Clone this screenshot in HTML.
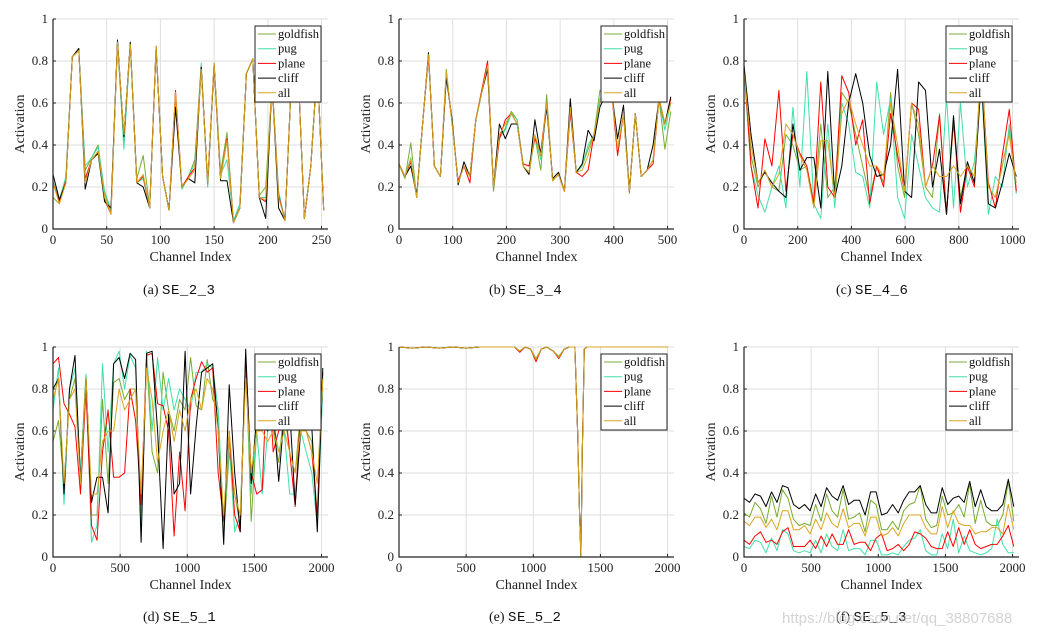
<!DOCTYPE html>
<html><head><meta charset="utf-8"><style>
body{margin:0;background:#fff;width:1044px;height:638px;overflow:hidden;position:relative;font-family:"Liberation Serif",serif}
svg{position:absolute;left:0;top:0}
.cap{position:absolute;font-size:14px;color:#111;white-space:nowrap;font-family:"Liberation Serif",serif}
.cap .m{font-family:"Liberation Mono","DejaVu Sans Mono",monospace;font-size:14px;letter-spacing:0.5px}
.wm{position:absolute;left:782px;top:610px;font-family:"Liberation Sans",sans-serif;font-size:15px;color:rgba(200,200,200,0.8)}
</style></head><body>
<svg id="fig" width="1044" height="638"></svg>
<div class="cap" style="left:143px;top:283px">(a) <span class="m">SE_2_3</span></div>
<div class="cap" style="left:489px;top:283px">(b) <span class="m">SE_3_4</span></div>
<div class="cap" style="left:836px;top:283px">(c) <span class="m">SE_4_6</span></div>
<div class="cap" style="left:143px;top:610px">(d) <span class="m">SE_5_1</span></div>
<div class="cap" style="left:489px;top:610px">(e) <span class="m">SE_5_2</span></div>
<div class="cap" style="left:836px;top:610px">(f) <span class="m">SE_5_3</span></div>
<div class="wm">https://blog.csdn.net/qq_38807688</div>
<script>
const seriesNames=["goldfish","pug","plane","cliff","all"];
const seriesColors=["#77ac30","#40e0a8","#ff0000","#000000","#daa520"];
// panel a
const aStride=6, aMax=256, aTicks=[0,50,100,150,200,250];
const aAll=[0.22,0.12,0.22,0.82,0.85,0.22,0.33,0.37,0.15,0.07,0.89,0.45,0.88,0.22,0.26,0.1,0.87,0.25,0.09,0.65,0.2,0.24,0.28,0.76,0.22,0.79,0.24,0.42,0.03,0.1,0.74,0.81,0.15,0.14,0.7,0.15,0.04,0.72,0.78,0.05,0.3,0.78,0.09];
const aGoldfish=[0.15,0.12,0.24,0.82,0.85,0.28,0.34,0.4,0.17,0.08,0.89,0.42,0.88,0.24,0.35,0.1,0.87,0.25,0.09,0.64,0.19,0.25,0.33,0.77,0.2,0.79,0.27,0.46,0.03,0.12,0.74,0.81,0.16,0.2,0.7,0.17,0.04,0.72,0.78,0.05,0.3,0.78,0.09];
const aPug=[0.23,0.14,0.25,0.82,0.85,0.3,0.34,0.39,0.18,0.09,0.89,0.38,0.88,0.22,0.24,0.1,0.87,0.25,0.09,0.64,0.19,0.25,0.31,0.79,0.2,0.79,0.26,0.33,0.04,0.12,0.74,0.81,0.15,0.15,0.7,0.18,0.04,0.72,0.78,0.05,0.3,0.78,0.09];
const aPlane=[0.22,0.13,0.23,0.82,0.85,0.24,0.33,0.37,0.14,0.07,0.89,0.44,0.88,0.22,0.25,0.1,0.87,0.25,0.09,0.66,0.2,0.25,0.29,0.77,0.22,0.79,0.24,0.43,0.03,0.1,0.74,0.81,0.15,0.13,0.7,0.16,0.04,0.72,0.78,0.05,0.3,0.78,0.09];
const aCliff=[0.26,0.14,0.22,0.82,0.86,0.19,0.33,0.36,0.13,0.1,0.9,0.44,0.89,0.22,0.2,0.1,0.86,0.25,0.09,0.58,0.2,0.24,0.22,0.77,0.22,0.78,0.23,0.23,0.03,0.1,0.74,0.81,0.15,0.05,0.7,0.1,0.04,0.72,0.78,0.05,0.3,0.78,0.09];
// panel b
const bStride=11, bMax=512, bTicks=[0,100,200,300,400,500];
const bAll=[0.31,0.25,0.33,0.15,0.5,0.83,0.3,0.25,0.75,0.5,0.22,0.3,0.25,0.52,0.65,0.78,0.2,0.45,0.5,0.55,0.5,0.3,0.27,0.45,0.35,0.6,0.23,0.26,0.18,0.58,0.27,0.28,0.35,0.45,0.6,0.64,0.65,0.38,0.55,0.18,0.55,0.25,0.28,0.33,0.62,0.5,0.6];
const bGoldfish=[0.31,0.24,0.41,0.15,0.5,0.83,0.3,0.25,0.76,0.5,0.22,0.3,0.25,0.52,0.65,0.77,0.18,0.43,0.48,0.56,0.52,0.3,0.26,0.44,0.28,0.64,0.23,0.26,0.18,0.56,0.27,0.3,0.38,0.45,0.66,0.64,0.65,0.36,0.55,0.17,0.55,0.25,0.28,0.33,0.62,0.38,0.56];
const bPug=[0.31,0.25,0.34,0.15,0.5,0.83,0.3,0.25,0.74,0.5,0.22,0.3,0.25,0.52,0.65,0.78,0.2,0.44,0.47,0.55,0.52,0.3,0.27,0.44,0.33,0.6,0.23,0.26,0.18,0.58,0.27,0.3,0.4,0.45,0.62,0.64,0.65,0.38,0.55,0.18,0.55,0.25,0.28,0.33,0.62,0.47,0.6];
const bPlane=[0.31,0.25,0.32,0.15,0.5,0.82,0.3,0.25,0.74,0.5,0.23,0.3,0.22,0.52,0.66,0.8,0.2,0.43,0.52,0.55,0.5,0.31,0.3,0.43,0.37,0.6,0.23,0.26,0.18,0.56,0.27,0.25,0.28,0.45,0.6,0.64,0.65,0.35,0.55,0.18,0.55,0.25,0.28,0.31,0.62,0.5,0.62];
const bCliff=[0.31,0.25,0.3,0.16,0.5,0.84,0.3,0.25,0.72,0.52,0.21,0.32,0.25,0.52,0.65,0.76,0.2,0.5,0.43,0.5,0.5,0.3,0.26,0.52,0.35,0.58,0.24,0.27,0.18,0.62,0.27,0.31,0.47,0.42,0.58,0.64,0.65,0.43,0.59,0.18,0.55,0.25,0.28,0.4,0.62,0.5,0.63];
// panel c
const cStride=26, cMax=1024, cTicks=[0,200,400,600,800,1000];
const cGoldfish=[0.75,0.35,0.2,0.28,0.2,0.18,0.45,0.4,0.28,0.3,0.12,0.5,0.15,0.2,0.65,0.6,0.45,0.3,0.15,0.3,0.22,0.65,0.3,0.15,0.6,0.45,0.2,0.15,0.55,0.08,0.5,0.15,0.3,0.25,0.8,0.2,0.15,0.3,0.47,0.17];
const cPug=[0.75,0.3,0.16,0.08,0.2,0.3,0.1,0.58,0.2,0.75,0.12,0.05,0.5,0.1,0.6,0.5,0.27,0.25,0.1,0.7,0.45,0.62,0.15,0.05,0.45,0.3,0.15,0.1,0.08,0.63,0.1,0.6,0.2,0.32,0.7,0.07,0.25,0.2,0.5,0.17];
const cPlane=[0.78,0.3,0.1,0.43,0.3,0.66,0.18,0.45,0.36,0.3,0.12,0.7,0.2,0.15,0.73,0.65,0.4,0.52,0.12,0.3,0.2,0.55,0.35,0.18,0.6,0.57,0.2,0.3,0.54,0.07,0.52,0.08,0.3,0.2,0.78,0.22,0.1,0.35,0.57,0.18];
const cCliff=[0.78,0.45,0.22,0.27,0.22,0.18,0.15,0.5,0.28,0.34,0.34,0.1,0.75,0.15,0.3,0.6,0.74,0.6,0.35,0.25,0.26,0.4,0.76,0.18,0.15,0.7,0.66,0.2,0.38,0.07,0.54,0.12,0.32,0.22,0.72,0.12,0.1,0.22,0.36,0.25];
const cAll=[0.75,0.4,0.22,0.28,0.2,0.26,0.5,0.45,0.35,0.28,0.1,0.42,0.42,0.15,0.55,0.62,0.5,0.4,0.3,0.3,0.25,0.6,0.4,0.18,0.6,0.5,0.2,0.3,0.25,0.25,0.3,0.25,0.3,0.25,0.78,0.2,0.15,0.3,0.45,0.22];
// panel d
const dStride=41, dMax=2048, dTicks=[0,500,1000,1500,2000];
const dGoldfish=[0.55,0.65,0.35,0.75,0.85,0.4,0.87,0.2,0.2,0.75,0.35,0.83,0.85,0.75,0.8,0.8,0.2,0.95,0.5,0.4,0.88,0.7,0.6,0.75,0.7,0.95,0.72,0.7,0.94,0.75,0.7,0.1,0.5,0.3,0.15,0.95,0.17,0.6,0.8,0.65,0.6,0.45,0.7,0.5,0.4,0.7,0.6,0.55,0.2,0.85];
const dPug=[0.7,0.9,0.25,0.8,0.9,0.4,0.87,0.07,0.15,0.92,0.5,0.92,0.98,0.8,0.96,0.9,0.1,0.98,0.6,0.95,0.7,0.85,0.7,0.8,0.75,0.7,0.88,0.88,0.92,0.9,0.7,0.15,0.55,0.12,0.2,0.9,0.3,0.6,0.3,0.6,0.65,0.5,0.6,0.3,0.3,0.6,0.5,0.4,0.15,0.8];
const dPlane=[0.92,0.95,0.73,0.68,0.62,0.3,0.8,0.15,0.08,0.5,0.7,0.38,0.38,0.4,0.8,0.65,0.25,0.96,0.97,0.73,0.72,0.6,0.1,0.5,0.22,0.75,0.85,0.93,0.88,0.9,0.4,0.17,0.6,0.2,0.12,0.95,0.4,0.3,0.32,0.95,0.5,0.6,0.75,0.5,0.24,0.7,0.6,0.5,0.2,0.88];
const dCliff=[0.8,0.85,0.3,0.8,0.96,0.35,0.85,0.26,0.38,0.38,0.21,0.92,0.95,0.85,0.97,0.94,0.07,0.97,0.98,0.6,0.04,0.68,0.3,0.35,0.98,0.3,0.62,0.88,0.9,0.92,0.6,0.06,0.82,0.4,0.12,0.99,0.35,0.67,0.67,0.6,0.7,0.36,0.68,0.7,0.25,0.6,0.75,0.62,0.12,0.9];
const dAll=[0.75,0.85,0.35,0.75,0.8,0.35,0.85,0.3,0.3,0.55,0.6,0.6,0.8,0.7,0.75,0.8,0.3,0.9,0.75,0.45,0.6,0.7,0.55,0.7,0.6,0.75,0.8,0.7,0.85,0.8,0.6,0.2,0.6,0.3,0.2,0.85,0.4,0.6,0.6,0.55,0.6,0.5,0.6,0.5,0.4,0.6,0.6,0.5,0.35,0.85];
// panel e
const eMax=2048, eTicks=[0,500,1000,1500,2000];
const eChannels=[0,100,200,300,400,500,600,700,800,860,900,940,980,1020,1060,1100,1150,1190,1230,1270,1310,1330,1345,1355,1365,1380,1400,1500,1600,1700,1800,1900,2000];
const eAll=[1,0.995,1,0.995,1,0.995,1,1,1,1,0.98,1,0.99,0.94,0.99,1,0.98,0.95,0.99,1,1,0.6,0.2,0,0.5,0.99,1,1,1,1,1,1,1];
const eGoldfish=[1,0.995,1,0.995,1,0.995,1,1,1,1,0.98,1,0.99,0.945,0.99,1,0.98,0.955,0.99,1,1,0.6,0.2,0,0.5,0.99,1,1,1,1,1,1,1];
const ePug=[1,0.995,1,0.995,1,0.995,1,1,1,1,0.98,1,0.99,0.94,0.99,1,0.98,0.95,0.99,1,1,0.6,0.2,0,0.5,0.99,1,1,1,1,1,1,1];
const ePlane=[1,0.995,1,0.995,1,0.995,1,1,1,1,0.975,1,0.99,0.93,0.99,1,0.98,0.945,0.99,1,1,0.6,0.2,0,0.5,0.99,1,1,1,1,1,1,1];
const eCliff=[1,0.995,1,0.995,1,0.995,1,1,1,1,0.98,1,0.99,0.94,0.99,1,0.98,0.95,0.99,1,1,0.6,0.2,0,0.5,0.99,1,1,1,1,1,1,1];
// panel f
const fStride=41, fMax=2048, fTicks=[0,500,1000,1500,2000];
const fCliff=[0.28,0.26,0.30,0.29,0.24,0.31,0.26,0.34,0.33,0.25,0.23,0.25,0.22,0.30,0.24,0.33,0.29,0.27,0.34,0.25,0.27,0.27,0.20,0.31,0.31,0.20,0.21,0.25,0.21,0.27,0.31,0.31,0.34,0.25,0.21,0.21,0.33,0.25,0.28,0.29,0.26,0.36,0.24,0.32,0.24,0.22,0.22,0.25,0.37,0.24];
const fGoldfish=[0.21,0.19,0.26,0.23,0.16,0.29,0.19,0.32,0.28,0.18,0.15,0.16,0.15,0.25,0.17,0.30,0.22,0.19,0.32,0.18,0.19,0.21,0.12,0.27,0.25,0.13,0.13,0.17,0.13,0.22,0.25,0.26,0.34,0.18,0.14,0.15,0.29,0.20,0.21,0.25,0.19,0.35,0.16,0.27,0.17,0.15,0.15,0.20,0.36,0.17];
const fAll=[0.17,0.15,0.19,0.19,0.14,0.18,0.13,0.22,0.22,0.13,0.13,0.15,0.11,0.18,0.13,0.21,0.16,0.14,0.23,0.14,0.16,0.16,0.10,0.19,0.19,0.10,0.11,0.14,0.10,0.16,0.20,0.20,0.20,0.14,0.11,0.11,0.24,0.14,0.22,0.16,0.15,0.15,0.11,0.12,0.12,0.14,0.14,0.11,0.25,0.13];
const fPlane=[0.08,0.06,0.10,0.12,0.07,0.08,0.06,0.12,0.14,0.05,0.05,0.05,0.08,0.04,0.10,0.05,0.11,0.06,0.06,0.13,0.06,0.07,0.07,0.03,0.09,0.11,0.03,0.04,0.06,0.03,0.06,0.12,0.11,0.09,0.05,0.04,0.04,0.12,0.05,0.14,0.06,0.13,0.06,0.04,0.05,0.06,0.06,0.10,0.15,0.05];
const fPug=[0.05,0.04,0.08,0.07,0.02,0.09,0.03,0.13,0.11,0.03,0.02,0.03,0.02,0.08,0.02,0.11,0.05,0.03,0.13,0.03,0.04,0.04,0.01,0.08,0.08,0.01,0.01,0.02,0.01,0.05,0.08,0.09,0.13,0.03,0.01,0.01,0.11,0.04,0.18,0.02,0.10,0.03,0.02,0.01,0.02,0.04,0.18,0.06,0.02,0.02];
const yTicks=[0,0.2,0.4,0.6,0.8,1];
const yTickLabels=["0","0.2","0.4","0.6","0.8","1"];

const NS="http://www.w3.org/2000/svg";
const svg=document.getElementById("fig");
function mk(tag,attrs,parent){const e=document.createElementNS(NS,tag);for(const k in attrs)e.setAttribute(k,attrs[k]);(parent||svg).appendChild(e);return e;}
const W=275,H=210;
function idxChannels(n,stride){const r=[];for(let i=0;i<n;i++)r.push(i*stride);return r;}
function panel(id,ox,oy,xmax,xticks,series,chans){
  const g=mk("g",{});
  
  
  const sx=v=>ox+v/xmax*W, sy=v=>oy+H-v*H;
  xticks.forEach(t=>{const l=mk("line",{x1:sx(t),x2:sx(t),y1:oy,y2:oy+H,stroke:"#dedede","stroke-width":1},g);
    
    const tx=mk("text",{x:sx(t),y:oy+H+15,"text-anchor":"middle","font-size":13,fill:"#222"},g);tx.textContent=t;
    
    mk("line",{x1:sx(t),x2:sx(t),y1:oy+H,y2:oy+H-3,stroke:"#222"},g);});
  yTicks.forEach((t,i)=>{const l=mk("line",{x1:ox,x2:ox+W,y1:sy(t),y2:sy(t),stroke:"#dedede","stroke-width":1},g);
    
    const tx=mk("text",{x:ox-5,y:sy(t)+4,"text-anchor":"end","font-size":13,fill:"#222"},g);tx.textContent=yTickLabels[i];
    
    mk("line",{x1:ox,x2:ox+3,y1:sy(t),y2:sy(t),stroke:"#222"},g);});
  series.forEach((vals,si)=>{
    const ch=chans[si];let d="";
    const n=Math.min(vals.length,ch.length);
    for(let i=0;i<n;i++){d+=(i?"L":"M")+sx(ch[i]).toFixed(1)+","+sy(vals[i]).toFixed(1);}
    const p=mk("path",{d:d,fill:"none",stroke:seriesColors[si],"stroke-width":1,"stroke-linejoin":"round"},g);
    
    
  });
  const ax=mk("path",{d:`M${ox},${oy}V${oy+H}H${ox+W}`,fill:"none",stroke:"#222","stroke-width":1.2},g);
  
  const xl=mk("text",{x:ox+W/2,y:oy+H+32,"text-anchor":"middle","font-size":14,fill:"#222"},g);xl.textContent="Channel Index";
  
  const yl=mk("text",{x:0,y:0,"text-anchor":"middle","font-size":14,fill:"#222",transform:`translate(${ox-29},${oy+H/2}) rotate(-90)`},g);yl.textContent="Activation";
  
  const lx=ox+W-73,ly=oy+7;
  const lg=mk("g",{},g);
  
  mk("rect",{x:lx,y:ly,width:66,height:76,fill:"#fff",stroke:"#222","stroke-width":1},lg);
  seriesNames.forEach((n,i)=>{const yy=ly+8+i*14.7;
    mk("line",{x1:lx+3,x2:lx+21,y1:yy,y2:yy,stroke:seriesColors[i],"stroke-width":1},lg);
    const t=mk("text",{x:lx+23,y:yy+4,"font-size":12.5,fill:"#111"},lg);t.textContent=n;
    });
}
const five=(n,s)=>[0,1,2,3,4].map(()=>idxChannels(n,s));
panel("a",53,19,aMax,aTicks,[aGoldfish,aPug,aPlane,aCliff,aAll],five(aAll.length,aStride));
panel("b",399,19,bMax,bTicks,[bGoldfish,bPug,bPlane,bCliff,bAll],five(bAll.length,bStride));
panel("c",744,19,cMax,cTicks,[cGoldfish,cPug,cPlane,cCliff,cAll],five(cAll.length,cStride));
panel("d",53,347,dMax,dTicks,[dGoldfish,dPug,dPlane,dCliff,dAll],five(dAll.length,dStride));
panel("e",399,347,eMax,eTicks,[eGoldfish,ePug,ePlane,eCliff,eAll],[eChannels,eChannels,eChannels,eChannels,eChannels]);
panel("f",744,347,fMax,fTicks,[fGoldfish,fPug,fPlane,fCliff,fAll],five(fCliff.length,fStride));
</script>
</body></html>
